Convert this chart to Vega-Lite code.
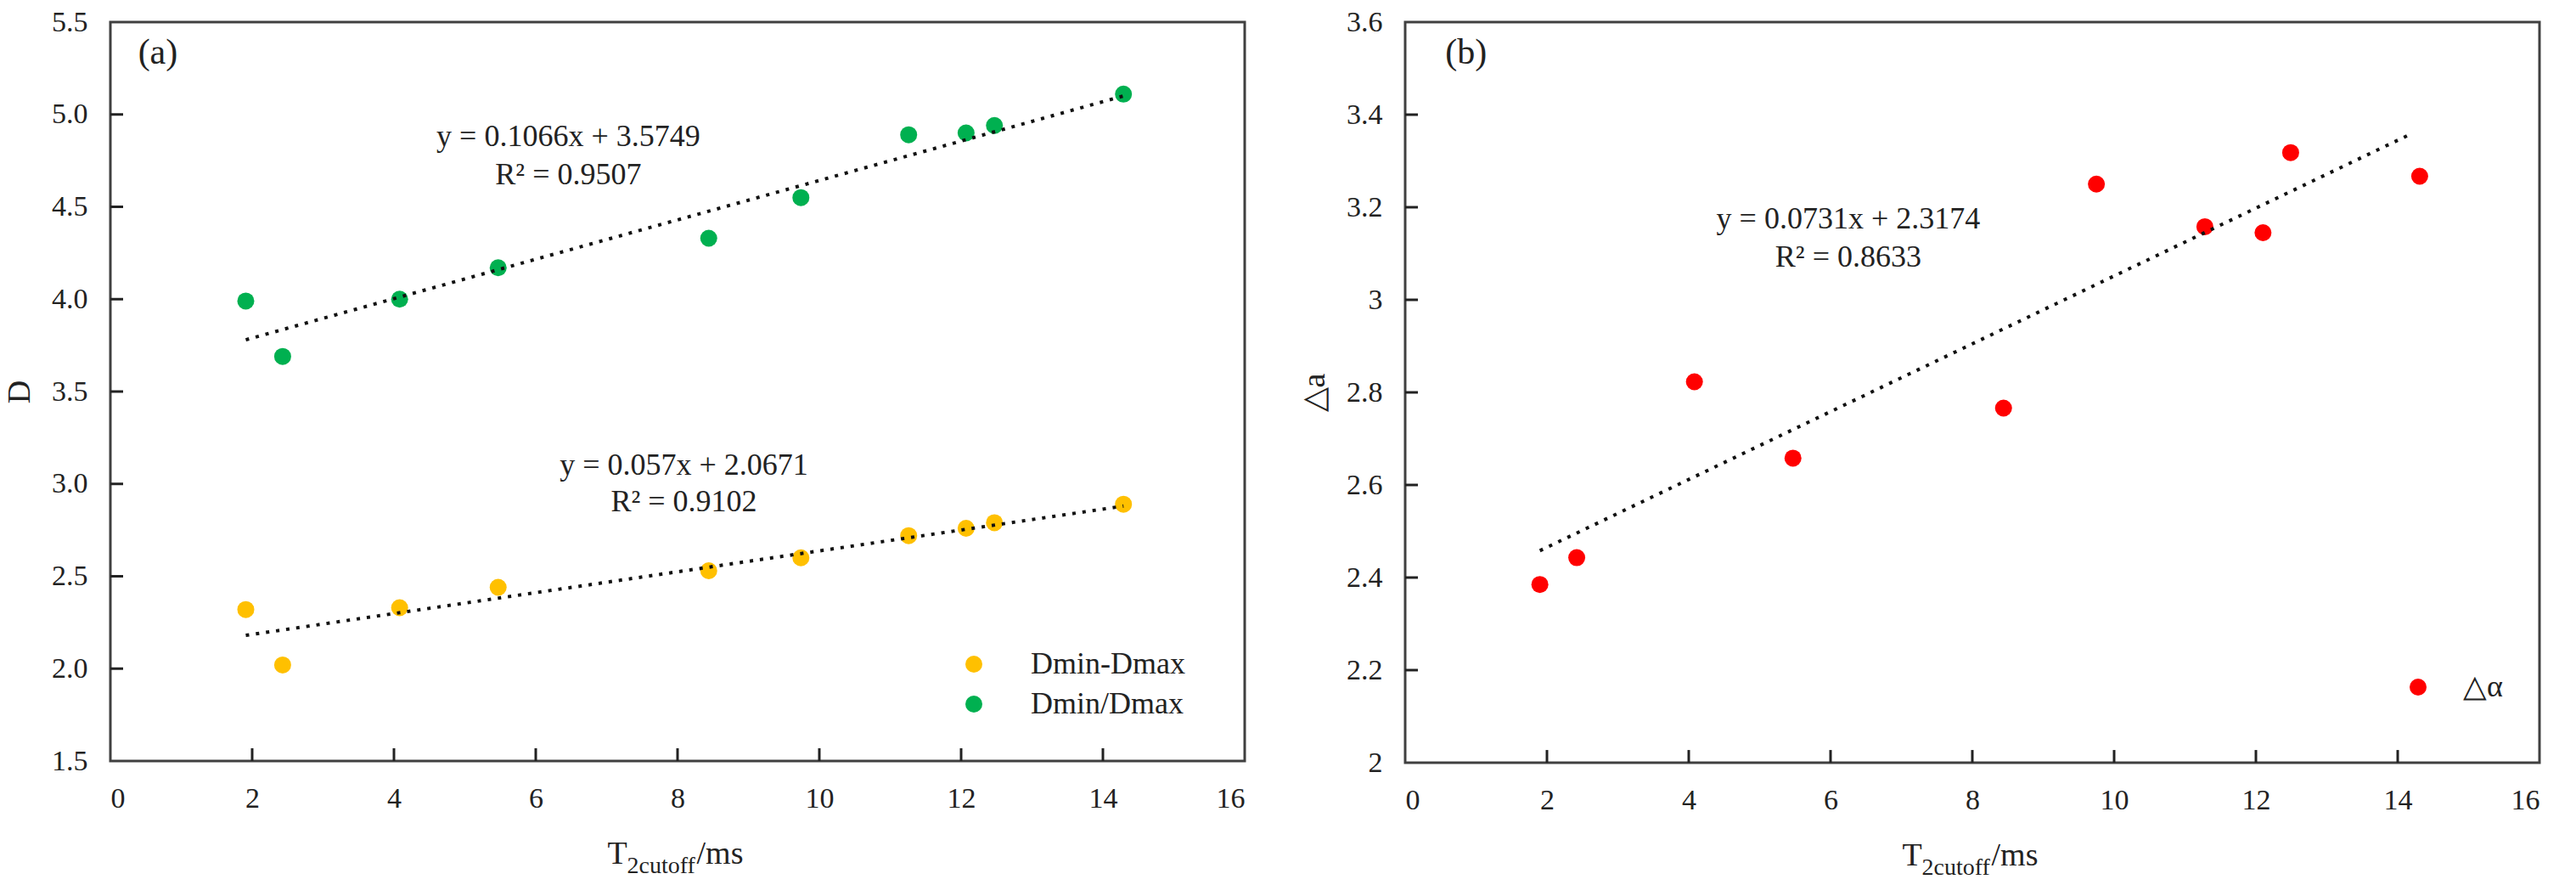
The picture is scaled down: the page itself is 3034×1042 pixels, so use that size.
{
  "$schema": "https://vega.github.io/schema/vega-lite/v6.json",
  "background": "white",
  "padding": {"left": 3, "top": 7, "right": 5, "bottom": 5},
  "datasets": {
    "a": [
      {"t": 1.91, "d": 2.32, "series": "Dmin-Dmax"},
      {"t": 2.43, "d": 2.02, "series": "Dmin-Dmax"},
      {"t": 4.08, "d": 2.33, "series": "Dmin-Dmax"},
      {"t": 5.47, "d": 2.44, "series": "Dmin-Dmax"},
      {"t": 8.44, "d": 2.53, "series": "Dmin-Dmax"},
      {"t": 9.74, "d": 2.60, "series": "Dmin-Dmax"},
      {"t": 11.26, "d": 2.72, "series": "Dmin-Dmax"},
      {"t": 12.07, "d": 2.76, "series": "Dmin-Dmax"},
      {"t": 12.47, "d": 2.79, "series": "Dmin-Dmax"},
      {"t": 14.29, "d": 2.89, "series": "Dmin-Dmax"},
      {"t": 1.91, "d": 3.99, "series": "Dmin/Dmax"},
      {"t": 2.43, "d": 3.69, "series": "Dmin/Dmax"},
      {"t": 4.08, "d": 4.00, "series": "Dmin/Dmax"},
      {"t": 5.47, "d": 4.17, "series": "Dmin/Dmax"},
      {"t": 8.44, "d": 4.33, "series": "Dmin/Dmax"},
      {"t": 9.74, "d": 4.55, "series": "Dmin/Dmax"},
      {"t": 11.26, "d": 4.89, "series": "Dmin/Dmax"},
      {"t": 12.07, "d": 4.90, "series": "Dmin/Dmax"},
      {"t": 12.47, "d": 4.94, "series": "Dmin/Dmax"},
      {"t": 14.29, "d": 5.11, "series": "Dmin/Dmax"}
    ],
    "aTrend": [
      {"t": 1.91, "d": 2.18, "series": "Dmin-Dmax"},
      {"t": 14.29, "d": 2.88, "series": "Dmin-Dmax"},
      {"t": 1.91, "d": 3.78, "series": "Dmin/Dmax"},
      {"t": 14.29, "d": 5.10, "series": "Dmin/Dmax"}
    ],
    "b": [
      {"t": 1.90, "da": 2.385, "series": "△α"},
      {"t": 2.42, "da": 2.443, "series": "△α"},
      {"t": 4.08, "da": 2.823, "series": "△α"},
      {"t": 5.47, "da": 2.658, "series": "△α"},
      {"t": 8.44, "da": 2.766, "series": "△α"},
      {"t": 9.75, "da": 3.250, "series": "△α"},
      {"t": 11.28, "da": 3.158, "series": "△α"},
      {"t": 12.10, "da": 3.145, "series": "△α"},
      {"t": 12.49, "da": 3.318, "series": "△α"},
      {"t": 14.31, "da": 3.267, "series": "△α"}
    ],
    "bTrend": [
      {"t": 1.90, "da": 2.458},
      {"t": 14.21, "da": 3.360}
    ],
    "xTicks": [{"v": 2}, {"v": 4}, {"v": 6}, {"v": 8}, {"v": 10}, {"v": 12}, {"v": 14}],
    "yTicksA": [{"v": 2}, {"v": 2.5}, {"v": 3}, {"v": 3.5}, {"v": 4}, {"v": 4.5}, {"v": 5}],
    "yTicksB": [{"v": 2.2}, {"v": 2.4}, {"v": 2.6}, {"v": 2.8}, {"v": 3}, {"v": 3.2}, {"v": 3.4}]
  },
  "spacing": 60,
  "resolve": {"scale": {"color": "independent"}, "legend": {"color": "independent"}},
  "hconcat": [
    {
      "width": 1336,
      "height": 870,
      "layer": [
        {
          "data": {"name": "a"},
          "mark": {"type": "circle", "size": 400, "opacity": 1},
          "encoding": {
            "x": {
              "field": "t", "type": "quantitative",
              "scale": {"domain": [0, 16], "nice": false, "zero": false},
              "axis": {"values": [0, 2, 4, 6, 8, 10, 12, 14, 16], "title": null, "format": "~g"}
            },
            "y": {
              "field": "d", "type": "quantitative",
              "scale": {"domain": [1.5, 5.5], "nice": false, "zero": false},
              "axis": {"values": [1.5, 2, 2.5, 3, 3.5, 4, 4.5, 5, 5.5], "format": ".1f", "title": "D"}
            },
            "color": {
              "field": "series", "type": "nominal",
              "scale": {"domain": ["Dmin-Dmax", "Dmin/Dmax"], "range": ["#FFC000", "#00B050"]},
              "legend": {
                "orient": "none", "legendX": 999, "legendY": 738, "title": null,
                "labelFont": "Liberation Serif", "labelFontSize": 36, "labelColor": "#222", "labelLimit": 400,
                "symbolType": "circle", "symbolSize": 400, "symbolStrokeWidth": 0,
                "labelOffset": 49, "rowPadding": 11, "padding": 0
              }
            }
          }
        },
        {
          "data": {"name": "xTicks"},
          "mark": {"type": "rule", "color": "#222", "strokeWidth": 3},
          "encoding": {
            "x": {"field": "v", "type": "quantitative"},
            "y": {"datum": 1.5},
            "y2": {"datum": 1.569}
          }
        },
        {
          "data": {"name": "yTicksA"},
          "mark": {"type": "rule", "color": "#222", "strokeWidth": 3},
          "encoding": {
            "y": {"field": "v", "type": "quantitative"},
            "x": {"datum": 0},
            "x2": {"datum": 0.18}
          }
        },
        {
          "data": {"name": "aTrend"},
          "mark": {"type": "line", "color": "#111", "strokeWidth": 4, "strokeDash": [4, 8]},
          "encoding": {
            "x": {"field": "t", "type": "quantitative"},
            "y": {"field": "d", "type": "quantitative"},
            "detail": {"field": "series"}
          }
        },
        {
          "data": {"values": [
            {"t": 6.46, "d": 4.879, "label": "y = 0.1066x + 3.5749"},
            {"t": 6.46, "d": 4.671, "label": "R² = 0.9507"},
            {"t": 8.09, "d": 3.102, "label": "y = 0.057x + 2.0671"},
            {"t": 8.09, "d": 2.904, "label": "R² = 0.9102"}
          ]},
          "mark": {"type": "text", "font": "Liberation Serif", "fontSize": 36, "color": "#222", "align": "center", "baseline": "middle"},
          "encoding": {
            "x": {"field": "t", "type": "quantitative"},
            "y": {"field": "d", "type": "quantitative"},
            "text": {"field": "label"}
          }
        },
        {
          "data": {"values": [{"t": 0.67, "d": 5.334, "label": "(a)"}]},
          "mark": {"type": "text", "font": "Liberation Serif", "fontSize": 42, "color": "#222", "align": "center", "baseline": "middle"},
          "encoding": {
            "x": {"field": "t", "type": "quantitative"},
            "y": {"field": "d", "type": "quantitative"},
            "text": {"field": "label"}
          }
        },
        {
          "data": {"values": [
            {"t": 7.011, "d": 0.943, "label": "T"},
            {"t": 8.27, "d": 0.943, "label": "/ms"}
          ]},
          "mark": {"type": "text", "font": "Liberation Serif", "fontSize": 38, "color": "#222", "align": "left", "baseline": "alphabetic", "clip": false},
          "encoding": {
            "x": {"field": "t", "type": "quantitative"},
            "y": {"field": "d", "type": "quantitative"},
            "text": {"field": "label"}
          }
        },
        {
          "data": {"values": [{"t": 7.287, "d": 0.892, "label": "2cutoff"}]},
          "mark": {"type": "text", "font": "Liberation Serif", "fontSize": 28, "color": "#222", "align": "left", "baseline": "alphabetic", "clip": false},
          "encoding": {
            "x": {"field": "t", "type": "quantitative"},
            "y": {"field": "d", "type": "quantitative"},
            "text": {"field": "label"}
          }
        }
      ]
    },
    {
      "width": 1336,
      "height": 872,
      "layer": [
        {
          "data": {"name": "b"},
          "mark": {"type": "circle", "size": 400, "opacity": 1},
          "encoding": {
            "x": {
              "field": "t", "type": "quantitative",
              "scale": {"domain": [0, 16], "nice": false, "zero": false},
              "axis": {"values": [0, 2, 4, 6, 8, 10, 12, 14, 16], "title": null, "format": "~g"}
            },
            "y": {
              "field": "da", "type": "quantitative",
              "scale": {"domain": [2, 3.6], "nice": false, "zero": false},
              "axis": {"values": [2, 2.2, 2.4, 2.6, 2.8, 3, 3.2, 3.4, 3.6], "format": "~g", "title": "△a"}
            },
            "color": {
              "field": "series", "type": "nominal",
              "scale": {"domain": ["△α"], "range": ["#FF0000"]},
              "legend": {
                "orient": "none", "legendX": 1175, "legendY": 765, "title": null,
                "labelFont": "Liberation Serif", "labelFontSize": 36, "labelColor": "#222", "labelLimit": 400,
                "symbolType": "circle", "symbolSize": 400, "symbolStrokeWidth": 0,
                "labelOffset": 35, "padding": 0
              }
            }
          }
        },
        {
          "data": {"name": "xTicks"},
          "mark": {"type": "rule", "color": "#222", "strokeWidth": 3},
          "encoding": {
            "x": {"field": "v", "type": "quantitative"},
            "y": {"datum": 2},
            "y2": {"datum": 2.0274}
          }
        },
        {
          "data": {"name": "yTicksB"},
          "mark": {"type": "rule", "color": "#222", "strokeWidth": 3},
          "encoding": {
            "y": {"field": "v", "type": "quantitative"},
            "x": {"datum": 0},
            "x2": {"datum": 0.18}
          }
        },
        {
          "data": {"name": "bTrend"},
          "mark": {"type": "line", "color": "#111", "strokeWidth": 4, "strokeDash": [4, 8]},
          "encoding": {
            "x": {"field": "t", "type": "quantitative"},
            "y": {"field": "da", "type": "quantitative"}
          }
        },
        {
          "data": {"values": [
            {"t": 6.25, "da": 3.175, "label": "y = 0.0731x + 2.3174"},
            {"t": 6.25, "da": 3.091, "label": "R² = 0.8633"}
          ]},
          "mark": {"type": "text", "font": "Liberation Serif", "fontSize": 36, "color": "#222", "align": "center", "baseline": "middle"},
          "encoding": {
            "x": {"field": "t", "type": "quantitative"},
            "y": {"field": "da", "type": "quantitative"},
            "text": {"field": "label"}
          }
        },
        {
          "data": {"values": [{"t": 0.86, "da": 3.534, "label": "(b)"}]},
          "mark": {"type": "text", "font": "Liberation Serif", "fontSize": 42, "color": "#222", "align": "center", "baseline": "middle"},
          "encoding": {
            "x": {"field": "t", "type": "quantitative"},
            "y": {"field": "da", "type": "quantitative"},
            "text": {"field": "label"}
          }
        },
        {
          "data": {"values": [
            {"t": 7.011, "da": 1.7785, "label": "T"},
            {"t": 8.27, "da": 1.7785, "label": "/ms"}
          ]},
          "mark": {"type": "text", "font": "Liberation Serif", "fontSize": 38, "color": "#222", "align": "left", "baseline": "alphabetic", "clip": false},
          "encoding": {
            "x": {"field": "t", "type": "quantitative"},
            "y": {"field": "da", "type": "quantitative"},
            "text": {"field": "label"}
          }
        },
        {
          "data": {"values": [{"t": 7.287, "da": 1.758, "label": "2cutoff"}]},
          "mark": {"type": "text", "font": "Liberation Serif", "fontSize": 28, "color": "#222", "align": "left", "baseline": "alphabetic", "clip": false},
          "encoding": {
            "x": {"field": "t", "type": "quantitative"},
            "y": {"field": "da", "type": "quantitative"},
            "text": {"field": "label"}
          }
        }
      ]
    }
  ],
  "config": {
    "font": "Liberation Serif",
    "view": {"stroke": "#404040", "strokeWidth": 3},
    "axis": {
      "domain": false,
      "grid": false,
      "ticks": false,
      "tickSize": 0,
      "labelFont": "Liberation Serif",
      "labelFontSize": 34,
      "labelColor": "#222",
      "titleFont": "Liberation Serif",
      "titleFontSize": 38,
      "titleFontWeight": "normal",
      "titleColor": "#222"
    },
    "axisX": {"labelPadding": 27},
    "axisY": {"labelPadding": 27, "titlePadding": 18}
  }
}
